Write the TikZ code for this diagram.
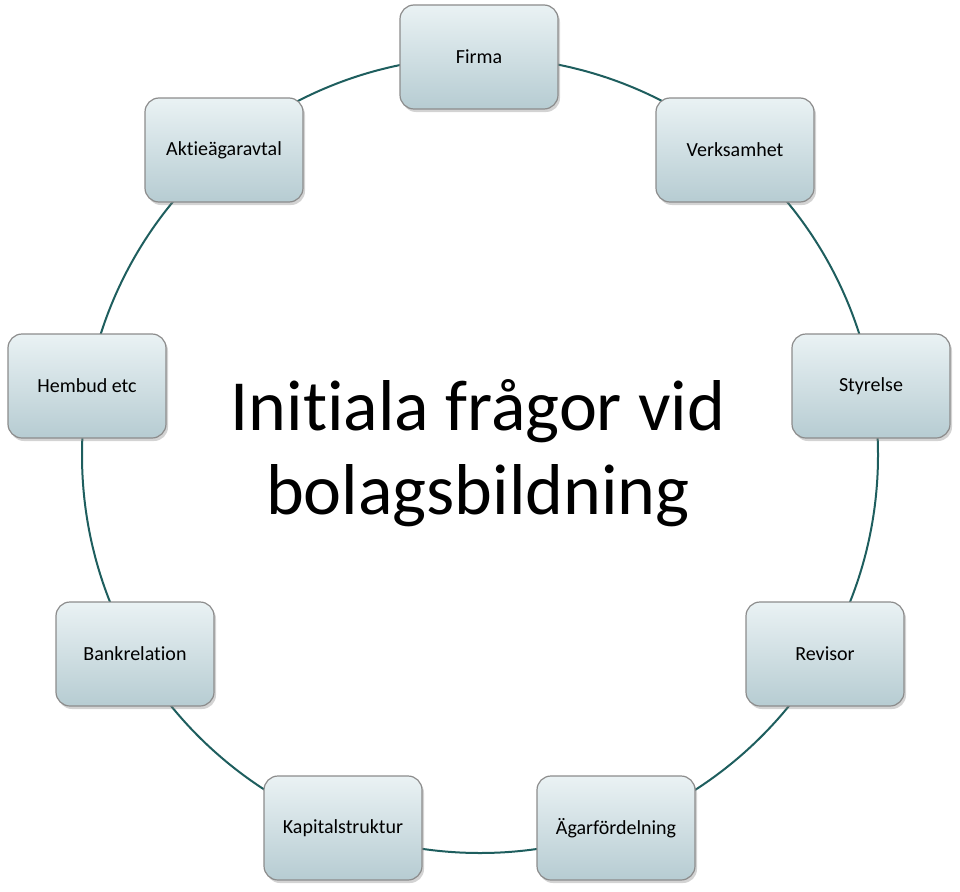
\documentclass[tikz,border=0pt]{standalone}
\usepackage{fontspec}
\setmainfont{Carlito}[Ligatures=NoCommon]
\usepackage{tikz}
\usetikzlibrary{shadows}
\definecolor{ringteal}{HTML}{1E5E5E}
\definecolor{boxtop}{HTML}{EAF2F4}
\definecolor{boxbot}{HTML}{B6CCD2}
\definecolor{boxline}{HTML}{8C8C8C}
\tikzset{
  topicbox/.style={draw=boxline, line width=1.2pt, rounded corners=14pt, top color=boxtop, bottom color=boxbot,
    minimum width=158pt, minimum height=104pt, align=center, font=\fontsize{20}{24}\selectfont,
    drop shadow={shadow xshift=2pt, shadow yshift=-3pt, opacity=0.35}},
  ring/.style={draw=ringteal, line width=2pt},
  titletext/.style={align=center, font=\fontsize{72}{84}\selectfont}
}

\begin{document}
\begin{tikzpicture}[x=1pt, y=-1pt]
  \useasboundingbox (0,0) rectangle (960,891);
  % ring behind the boxes
  \draw[ring] (480,455) circle (398);
  \node[titletext] (title) at (478,453) {Initiala frågor vid\\bolagsbildning};
  \node[topicbox] (firma) at (479,57) {Firma};
  \node[topicbox] (verks) at (735,150) {Verksamhet};
  \node[topicbox] (styr) at (871,386) {Styrelse};
  \node[topicbox] (rev) at (825,654) {Revisor};
  \node[topicbox] (agar) at (616,828) {Ägarfördelning};
  \node[topicbox] (kapital) at (343,828) {Kapitalstruktur};
  \node[topicbox] (bank) at (135,654) {Bankrelation};
  \node[topicbox] (hembud) at (87,386) {Hembud etc};
  \node[topicbox] (aktie) at (224,150) {Aktieägaravtal};
\end{tikzpicture}
\end{document}
